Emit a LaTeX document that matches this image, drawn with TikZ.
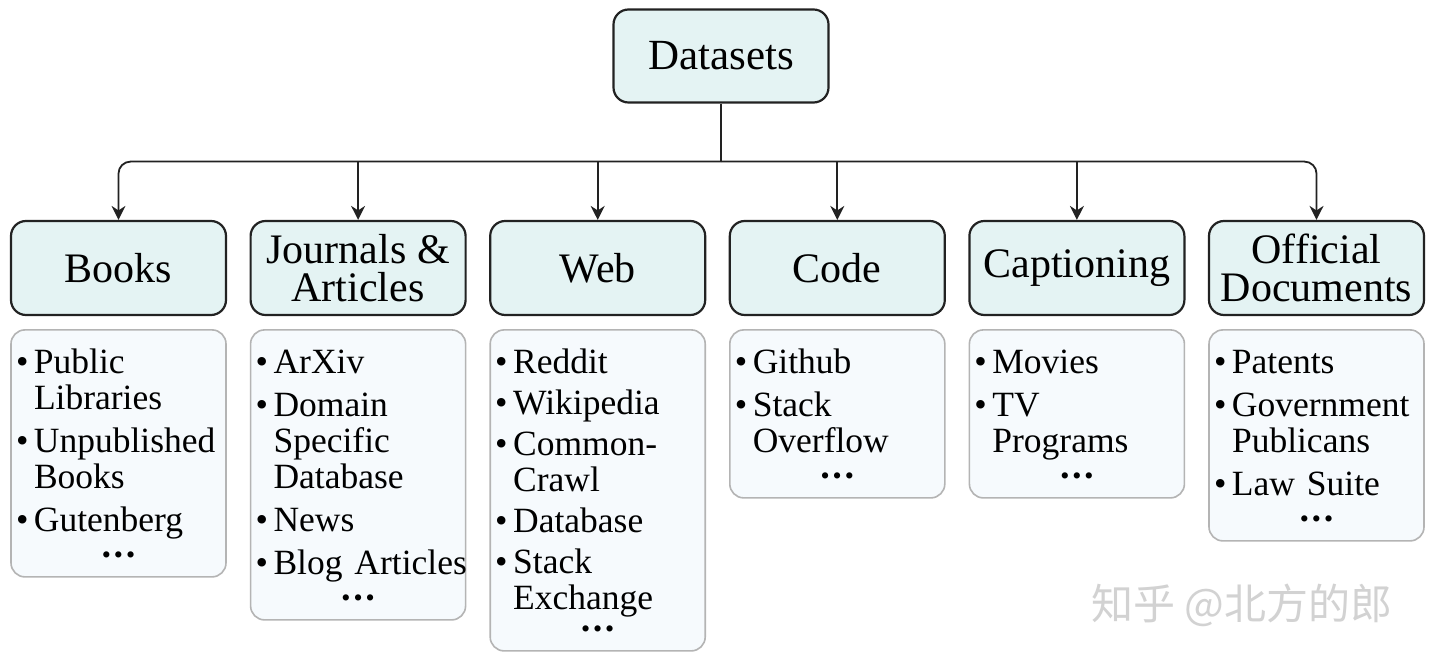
\documentclass[tikz,border=0pt]{standalone}
\usepackage{fontspec}
\setmainfont{Liberation Serif}
\newfontfamily\cjk{Noto Sans CJK SC}
\usepackage{tikz}
\usetikzlibrary{positioning,arrows.meta}
\definecolor{catfill}{HTML}{E4F3F3}
\definecolor{listfill}{HTML}{F6FAFD}
\definecolor{listline}{HTML}{B4B4B4}
\definecolor{edgecol}{HTML}{222222}
\newcommand{\bul}{\hspace*{3pt}\makebox[18pt][l]{\textbullet}}
\newcommand{\indt}{\hspace*{21pt}}
\newcommand{\topstrut}{\rule{0pt}{31pt}}
\newcommand{\moredots}[1][-4pt]{\\[#1]\makebox[211pt][c]{\fontsize{26}{26}\selectfont\textbullet\hspace{3pt}\textbullet\hspace{3pt}\textbullet}}

\begin{document}
\begin{tikzpicture}[
  x=1pt, y=1pt,
  node distance=22.4pt,
  catbox/.style={draw=edgecol, fill=catfill, line width=2.2pt, rounded corners=15pt, align=center, minimum width=215pt, minimum height=94pt, inner sep=2pt, font=\fontsize{42}{38}\selectfont},
  listbox/.style={draw=listline, fill=listfill, line width=1.6pt, rounded corners=14pt, align=left, text width=211pt, minimum width=215pt, inner xsep=2pt, inner ysep=13pt, font=\fontsize{35.5}{36}\selectfont},
  arrow/.style={-{Stealth[length=14pt,width=14pt]}, line width=1.8pt, draw=edgecol},
]
  \fill[white] (0,0) rectangle (1440,667);
  \useasboundingbox (0,0) rectangle (1440,667);

  \node[catbox, font=\fontsize{43}{43}\selectfont, minimum height=93pt] (datasets) at (721,611) {Datasets};

  \node[catbox] (books) at (118.5,399) {Books};
  \node[catbox, right=of books] (journals) {Journals \&\\Articles};
  \node[catbox, right=of journals] (web) {Web};
  \node[catbox, right=of web] (code) {Code};
  \node[catbox, right=of code] (captioning) {Captioning};
  \node[catbox, right=of captioning] (official) {Official\\Documents};

  \node[listbox, below=13pt of books] (bookslist)
    {\bul\topstrut Public\\\indt Libraries\\[7pt]\bul Unpublished\\\indt Books\\[7pt]\bul Gutenberg\moredots};
  \node[listbox, below=13pt of journals] (journalslist)
    {\bul\topstrut ArXiv\\[7pt]\bul Domain\\\indt Specific\\\indt Database\\[7pt]\bul News\\[7pt]\bul \mbox{Blog Articles}\moredots};
  \node[listbox, below=13pt of web] (weblist)
    {\bul\topstrut Reddit\\[5pt]\bul Wikipedia\\[5pt]\bul Common-\\\indt Crawl\\[5pt]\bul Database\\[5pt]\bul Stack\\\indt Exchange\moredots[-8pt]};
  \node[listbox, below=13pt of code] (codelist)
    {\bul\topstrut Github\\[7pt]\bul Stack\\\indt Overflow\moredots};
  \node[listbox, below=13pt of captioning] (captioninglist)
    {\bul\topstrut Movies\\[7pt]\bul TV\\\indt Programs\moredots};
  \node[listbox, below=13pt of official] (officiallist)
    {\bul\topstrut Patents\\[7pt]\bul Government\\\indt Publicans\\[7pt]\bul Law Suite\moredots};

  \coordinate[below=58pt of datasets] (bus);

  \draw[line width=1.8pt, draw=edgecol] (datasets) -- (bus);
  \draw[arrow, rounded corners=12pt] (bus) -| (books.north);
  \draw[arrow, rounded corners=12pt] (bus) -| (official.north);
  \draw[arrow] (bus -| journals.north) -- (journals.north);
  \draw[arrow] (bus -| web.north) -- (web.north);
  \draw[arrow] (bus -| code.north) -- (code.north);
  \draw[arrow] (bus -| captioning.north) -- (captioning.north);

  \node[font=\cjk\fontsize{42}{42}\selectfont, text=gray!35, anchor=west] (mark) at (1088,62) {知乎 @北方的郎};
\end{tikzpicture}
\end{document}
